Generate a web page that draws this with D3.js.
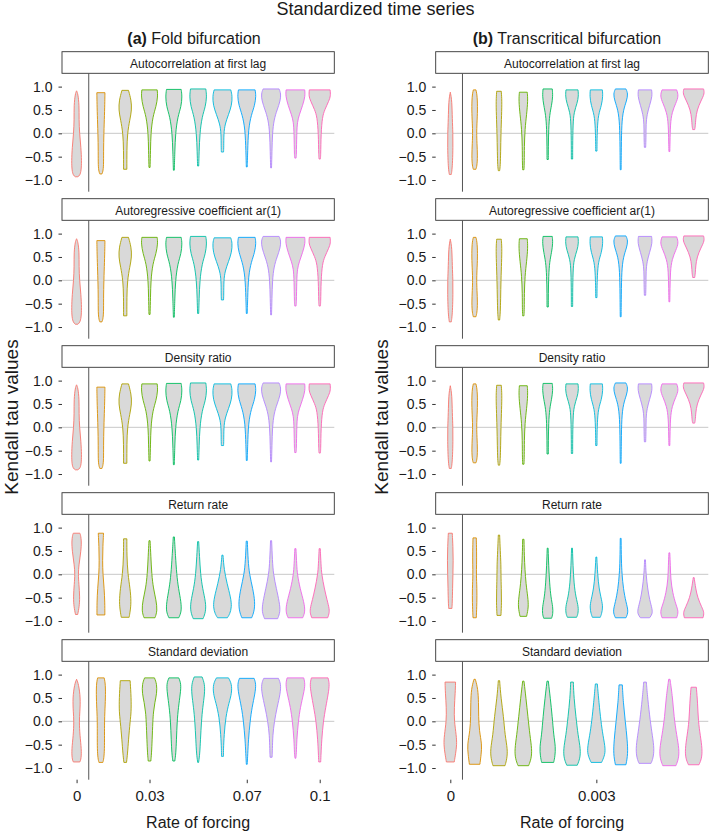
<!DOCTYPE html>
<html><head><meta charset="utf-8">
<script src="https://cdn.jsdelivr.net/npm/d3@7"></script>
<style>body{margin:0;background:#fff} text{font-family:"Liberation Sans",Arial,Helvetica,sans-serif;fill:#1a1a1a}</style>
</head><body><svg id="c" width="709" height="834"></svg>
<script>
// ---------- data ----------
const foldRates = ["0","0.01","0.02","0.03","0.04","0.05","0.06","0.07","0.08","0.09","0.1"];
const transRates = ["0","0.0005","0.001","0.0015","0.002","0.0025","0.003","0.0035","0.004","0.0045","0.005"];
const foldTickLabels = ["0","0.03","0.07","0.1"];
const transTickLabels = ["0","0.003"];
const indicators = ["Autocorrelation at first lag","Autoregressive coefficient ar(1)","Density ratio","Return rate","Standard deviation"];
const yTicks = [-1,-0.5,0,0.5,1];
const hueColors = ["#F8766D","#DB8E00","#AEA200","#64B200","#00BD5C","#00C1A7","#00BADE","#00A6FF","#B385FF","#EF67EB","#FF63B6"];

// violin profiles: [Kendall tau value, relative density width]
const foldAutocorr = [
 [[0.91,0],[0.85,0.12],[0.6,0.24],[0.3,0.22],[0,0.27],[-0.3,0.4],[-0.6,0.46],[-0.8,0.42],[-0.9,0.3],[-0.93,0.12]],
 [[0.87,0.37],[0.7,0.36],[0.4,0.33],[0,0.27],[-0.4,0.24],[-0.7,0.25],[-0.82,0.18],[-0.87,0.1]],
 [[0.92,0.3],[0.71,0.55],[0.5,0.6],[0.29,0.42],[0,0.2],[-0.36,0.15],[-0.77,0.15]],
 [[0.93,0.7],[0.79,0.76],[0.57,0.6],[0.36,0.3],[0,0.12],[-0.36,0.09],[-0.73,0.05]],
 [[0.94,0.67],[0.79,0.76],[0.57,0.67],[0.36,0.36],[0,0.15],[-0.4,0.09],[-0.79,0.04]],
 [[0.95,0.7],[0.79,0.79],[0.57,0.67],[0.36,0.36],[0,0.15],[-0.4,0.09],[-0.7,0.05]],
 [[0.93,0.76],[0.8,0.9],[0.6,0.85],[0.4,0.55],[0.2,0.24],[0,0.12],[-0.3,0.12],[-0.4,0.1]],
 [[0.93,0.76],[0.8,0.85],[0.6,0.73],[0.4,0.42],[0.1,0.15],[-0.4,0.08],[-0.72,0.04]],
 [[0.95,0.73],[0.85,0.9],[0.7,0.85],[0.5,0.55],[0.3,0.27],[0,0.12],[-0.4,0.08],[-0.74,0.04]],
 [[0.93,0.85],[0.8,0.9],[0.6,0.67],[0.4,0.36],[0.25,0.18],[0,0.12],[-0.5,0.09],[-0.53,0.06]],
 [[0.93,0.95],[0.8,1.0],[0.7,0.85],[0.5,0.45],[0.35,0.24],[0,0.12],[-0.5,0.09],[-0.55,0.06]]
];
const foldAr1 = [
 [[0.89,0],[0.83,0.12],[0.6,0.24],[0.3,0.22],[0,0.27],[-0.3,0.4],[-0.6,0.46],[-0.8,0.42],[-0.9,0.3],[-0.94,0.12]],
 [[0.85,0.37],[0.7,0.36],[0.4,0.33],[0,0.27],[-0.4,0.24],[-0.7,0.25],[-0.84,0.18],[-0.89,0.1]],
 [[0.92,0.3],[0.71,0.55],[0.5,0.6],[0.29,0.42],[0,0.2],[-0.36,0.15],[-0.76,0.15]],
 [[0.92,0.7],[0.79,0.76],[0.57,0.6],[0.36,0.3],[0,0.12],[-0.36,0.09],[-0.73,0.05]],
 [[0.92,0.67],[0.79,0.76],[0.57,0.67],[0.36,0.36],[0,0.15],[-0.4,0.09],[-0.79,0.04]],
 [[0.94,0.7],[0.79,0.79],[0.57,0.67],[0.36,0.36],[0,0.15],[-0.4,0.09],[-0.71,0.05]],
 [[0.91,0.76],[0.8,0.9],[0.6,0.85],[0.4,0.55],[0.2,0.24],[0,0.12],[-0.3,0.12],[-0.42,0.1]],
 [[0.92,0.76],[0.8,0.85],[0.6,0.73],[0.4,0.42],[0.1,0.15],[-0.4,0.08],[-0.71,0.04]],
 [[0.94,0.73],[0.85,0.9],[0.7,0.85],[0.5,0.55],[0.3,0.27],[0,0.12],[-0.4,0.08],[-0.74,0.04]],
 [[0.92,0.85],[0.8,0.9],[0.6,0.67],[0.4,0.36],[0.25,0.18],[0,0.12],[-0.5,0.09],[-0.55,0.06]],
 [[0.92,0.95],[0.8,1.0],[0.7,0.85],[0.5,0.45],[0.35,0.24],[0,0.12],[-0.5,0.09],[-0.55,0.06]]
];
const foldDensity = [
 [[0.91,0],[0.85,0.12],[0.6,0.24],[0.3,0.22],[0,0.27],[-0.3,0.4],[-0.6,0.46],[-0.8,0.42],[-0.88,0.3],[-0.91,0.12]],
 [[0.86,0.37],[0.7,0.36],[0.4,0.33],[0,0.27],[-0.4,0.24],[-0.7,0.25],[-0.83,0.18],[-0.88,0.1]],
 [[0.93,0.3],[0.71,0.55],[0.5,0.6],[0.29,0.42],[0,0.2],[-0.36,0.15],[-0.77,0.15]],
 [[0.93,0.7],[0.79,0.76],[0.57,0.6],[0.36,0.3],[0,0.12],[-0.36,0.09],[-0.72,0.05]],
 [[0.94,0.67],[0.79,0.76],[0.57,0.67],[0.36,0.36],[0,0.15],[-0.4,0.09],[-0.8,0.04]],
 [[0.95,0.7],[0.79,0.79],[0.57,0.67],[0.36,0.36],[0,0.15],[-0.4,0.09],[-0.7,0.05]],
 [[0.93,0.76],[0.8,0.9],[0.6,0.85],[0.4,0.55],[0.2,0.24],[0,0.12],[-0.3,0.12],[-0.39,0.1]],
 [[0.93,0.76],[0.8,0.85],[0.6,0.73],[0.4,0.42],[0.1,0.15],[-0.4,0.08],[-0.71,0.04]],
 [[0.95,0.73],[0.85,0.9],[0.7,0.85],[0.5,0.55],[0.3,0.27],[0,0.12],[-0.4,0.08],[-0.74,0.04]],
 [[0.93,0.85],[0.8,0.9],[0.6,0.67],[0.4,0.36],[0.25,0.18],[0,0.12],[-0.5,0.09],[-0.54,0.06]],
 [[0.93,0.95],[0.8,1.0],[0.7,0.85],[0.5,0.45],[0.35,0.24],[0,0.12],[-0.5,0.09],[-0.55,0.06]]
];
const foldReturn = [
 [[0.88,0.3],[0.85,0.36],[0.7,0.45],[0.5,0.4],[0.2,0.21],[0,0.15],[-0.2,0.21],[-0.5,0.3],[-0.7,0.24],[-0.86,0.1]],
 [[0.88,0.24],[0.6,0.18],[0.3,0.15],[0,0.18],[-0.3,0.3],[-0.6,0.36],[-0.87,0.36]],
 [[0.76,0.15],[0.4,0.15],[0,0.24],[-0.3,0.45],[-0.6,0.55],[-0.8,0.45],[-0.92,0.36]],
 [[0.72,0.05],[0.4,0.12],[0,0.2],[-0.3,0.35],[-0.55,0.6],[-0.78,0.72],[-0.93,0.5]],
 [[0.8,0.05],[0.4,0.15],[0,0.26],[-0.3,0.42],[-0.6,0.67],[-0.8,0.7],[-0.93,0.45]],
 [[0.7,0.05],[0.4,0.12],[0,0.22],[-0.3,0.4],[-0.6,0.7],[-0.8,0.7],[-0.95,0.45]],
 [[0.41,0.05],[0.1,0.15],[-0.2,0.42],[-0.5,0.76],[-0.7,0.85],[-0.85,0.67],[-0.93,0.45]],
 [[0.71,0.05],[0.3,0.12],[0,0.24],[-0.3,0.55],[-0.6,0.76],[-0.8,0.67],[-0.93,0.45]],
 [[0.72,0.05],[0.3,0.12],[0,0.21],[-0.3,0.48],[-0.6,0.76],[-0.8,0.85],[-0.95,0.6]],
 [[0.55,0.05],[0.2,0.12],[0,0.18],[-0.3,0.42],[-0.6,0.79],[-0.8,0.9],[-0.93,0.67]],
 [[0.55,0.05],[0.2,0.12],[0,0.18],[-0.3,0.42],[-0.55,0.67],[-0.75,0.9],[-0.85,0.85],[-0.93,0.73]]
];
const foldStd = [
 [[0.9,0],[0.8,0.18],[0.5,0.36],[0.2,0.3],[0,0.24],[-0.3,0.3],[-0.6,0.45],[-0.8,0.42],[-0.87,0.3]],
 [[0.93,0.3],[0.8,0.42],[0.5,0.42],[0.2,0.36],[0,0.33],[-0.3,0.33],[-0.6,0.33],[-0.8,0.27],[-0.88,0.18]],
 [[0.87,0.45],[0.5,0.55],[0.2,0.55],[0,0.45],[-0.4,0.3],[-0.7,0.21],[-0.88,0.12]],
 [[0.93,0.45],[0.8,0.67],[0.6,0.67],[0.4,0.48],[0.2,0.36],[0,0.3],[-0.4,0.24],[-0.7,0.18],[-0.85,0.12]],
 [[0.93,0.45],[0.8,0.67],[0.6,0.6],[0.3,0.42],[0,0.3],[-0.4,0.24],[-0.7,0.18],[-0.85,0.09]],
 [[0.95,0.36],[0.8,0.6],[0.6,0.6],[0.3,0.42],[0,0.3],[-0.4,0.21],[-0.7,0.15],[-0.88,0.04]],
 [[0.93,0.55],[0.8,0.85],[0.6,0.85],[0.4,0.6],[0.1,0.3],[-0.3,0.15],[-0.6,0.09],[-0.75,0.09]],
 [[0.92,0.67],[0.8,0.85],[0.6,0.76],[0.3,0.48],[0,0.3],[-0.4,0.15],[-0.7,0.09],[-0.92,0.04]],
 [[0.92,0.67],[0.8,0.9],[0.6,0.85],[0.3,0.55],[0,0.3],[-0.3,0.15],[-0.6,0.12],[-0.77,0.09]],
 [[0.93,0.76],[0.8,0.9],[0.6,0.76],[0.3,0.45],[0,0.27],[-0.4,0.12],[-0.7,0.09],[-0.79,0.04]],
 [[0.93,0.76],[0.8,0.9],[0.6,0.79],[0.3,0.55],[0,0.33],[-0.4,0.18],[-0.7,0.12],[-0.87,0.09]]
];
const transAutocorr = [
 [[0.88,0],[0.7,0.15],[0.3,0.18],[0,0.24],[-0.3,0.24],[-0.6,0.21],[-0.8,0.15],[-0.88,0.09]],
 [[0.93,0.12],[0.8,0.24],[0.5,0.27],[0.2,0.21],[0,0.18],[-0.2,0.21],[-0.5,0.27],[-0.7,0.21],[-0.77,0.12]],
 [[0.9,0.21],[0.7,0.27],[0.4,0.24],[0,0.18],[-0.4,0.15],[-0.7,0.12],[-0.8,0.06]],
 [[0.88,0.36],[0.7,0.42],[0.4,0.3],[0.1,0.15],[-0.3,0.09],[-0.6,0.09],[-0.78,0.06]],
 [[0.95,0.42],[0.8,0.48],[0.6,0.36],[0.4,0.18],[0.1,0.09],[-0.3,0.06],[-0.56,0.06]],
 [[0.93,0.55],[0.8,0.6],[0.65,0.48],[0.45,0.18],[0.2,0.09],[-0.3,0.06],[-0.55,0.06]],
 [[0.93,0.55],[0.8,0.6],[0.6,0.48],[0.4,0.18],[0.1,0.09],[-0.2,0.06],[-0.38,0.06]],
 [[0.95,0.48],[0.85,0.67],[0.7,0.55],[0.5,0.24],[0.2,0.09],[-0.3,0.06],[-0.78,0.04]],
 [[0.93,0.6],[0.8,0.67],[0.6,0.42],[0.4,0.18],[0.2,0.09],[-0.1,0.09],[-0.3,0.06]],
 [[0.93,0.67],[0.8,0.85],[0.65,0.6],[0.45,0.24],[0.2,0.09],[-0.2,0.06],[-0.39,0.04]],
 [[0.95,0.9],[0.85,1.0],[0.7,0.67],[0.5,0.3],[0.3,0.18],[0.15,0.15],[0.08,0.09]]
];
const transAr1 = [
 [[0.88,0],[0.7,0.15],[0.3,0.18],[0,0.24],[-0.3,0.24],[-0.6,0.21],[-0.8,0.15],[-0.89,0.09]],
 [[0.92,0.12],[0.8,0.24],[0.5,0.27],[0.2,0.21],[0,0.18],[-0.2,0.21],[-0.5,0.27],[-0.7,0.21],[-0.78,0.12]],
 [[0.88,0.21],[0.7,0.27],[0.4,0.24],[0,0.18],[-0.4,0.15],[-0.7,0.12],[-0.85,0.06]],
 [[0.89,0.36],[0.7,0.42],[0.4,0.3],[0.1,0.15],[-0.3,0.09],[-0.6,0.09],[-0.76,0.06]],
 [[0.94,0.42],[0.8,0.48],[0.6,0.36],[0.4,0.18],[0.1,0.09],[-0.3,0.06],[-0.57,0.06]],
 [[0.93,0.55],[0.8,0.6],[0.65,0.48],[0.45,0.18],[0.2,0.09],[-0.3,0.06],[-0.56,0.06]],
 [[0.93,0.55],[0.8,0.6],[0.6,0.48],[0.4,0.18],[0.1,0.09],[-0.2,0.06],[-0.37,0.06]],
 [[0.95,0.48],[0.85,0.67],[0.7,0.55],[0.5,0.24],[0.2,0.09],[-0.3,0.06],[-0.78,0.04]],
 [[0.94,0.6],[0.8,0.67],[0.6,0.42],[0.4,0.18],[0.2,0.09],[-0.1,0.09],[-0.32,0.06]],
 [[0.93,0.67],[0.8,0.85],[0.65,0.6],[0.45,0.24],[0.2,0.09],[-0.2,0.06],[-0.46,0.04]],
 [[0.95,0.9],[0.85,1.0],[0.7,0.67],[0.5,0.3],[0.3,0.18],[0.15,0.15],[0.06,0.09]]
];
const transDensity = [
 [[0.89,0],[0.7,0.15],[0.3,0.18],[0,0.24],[-0.3,0.24],[-0.6,0.21],[-0.8,0.15],[-0.88,0.09]],
 [[0.93,0.12],[0.8,0.24],[0.5,0.27],[0.2,0.21],[0,0.18],[-0.2,0.21],[-0.5,0.27],[-0.7,0.21],[-0.76,0.12]],
 [[0.9,0.21],[0.7,0.27],[0.4,0.24],[0,0.18],[-0.4,0.15],[-0.7,0.12],[-0.81,0.06]],
 [[0.89,0.36],[0.7,0.42],[0.4,0.3],[0.1,0.15],[-0.3,0.09],[-0.6,0.09],[-0.79,0.06]],
 [[0.94,0.42],[0.8,0.48],[0.6,0.36],[0.4,0.18],[0.1,0.09],[-0.3,0.06],[-0.57,0.06]],
 [[0.93,0.55],[0.8,0.6],[0.65,0.48],[0.45,0.18],[0.2,0.09],[-0.3,0.06],[-0.56,0.06]],
 [[0.93,0.55],[0.8,0.6],[0.6,0.48],[0.4,0.18],[0.1,0.09],[-0.2,0.06],[-0.39,0.06]],
 [[0.95,0.48],[0.85,0.67],[0.7,0.55],[0.5,0.24],[0.2,0.09],[-0.3,0.06],[-0.77,0.04]],
 [[0.93,0.6],[0.8,0.67],[0.6,0.42],[0.4,0.18],[0.2,0.09],[-0.1,0.09],[-0.31,0.06]],
 [[0.93,0.67],[0.8,0.85],[0.65,0.6],[0.45,0.24],[0.2,0.09],[-0.2,0.06],[-0.39,0.04]],
 [[0.95,0.9],[0.85,1.0],[0.7,0.67],[0.5,0.3],[0.3,0.18],[0.15,0.15],[0.09,0.09]]
];
const transReturn = [
 [[0.88,0.18],[0.6,0.24],[0.3,0.27],[0,0.24],[-0.3,0.21],[-0.6,0.18],[-0.73,0.15]],
 [[0.78,0.15],[0.5,0.18],[0.2,0.18],[0,0.15],[-0.3,0.21],[-0.6,0.21],[-0.93,0.15]],
 [[0.84,0.06],[0.5,0.12],[0.2,0.18],[0,0.18],[-0.3,0.21],[-0.6,0.24],[-0.88,0.18]],
 [[0.75,0.06],[0.4,0.09],[0.1,0.15],[-0.2,0.24],[-0.5,0.42],[-0.7,0.48],[-0.9,0.3]],
 [[0.56,0.04],[0.2,0.09],[-0.2,0.18],[-0.5,0.3],[-0.7,0.48],[-0.85,0.48],[-0.94,0.36]],
 [[0.56,0.04],[0.2,0.09],[-0.2,0.18],[-0.5,0.36],[-0.7,0.6],[-0.85,0.55],[-0.92,0.42]],
 [[0.37,0.04],[0,0.12],[-0.3,0.24],[-0.55,0.48],[-0.7,0.6],[-0.85,0.48],[-0.92,0.36]],
 [[0.77,0.04],[0.3,0.06],[0,0.12],[-0.3,0.24],[-0.6,0.48],[-0.8,0.73],[-0.93,0.48]],
 [[0.31,0.04],[0,0.09],[-0.3,0.24],[-0.55,0.42],[-0.75,0.67],[-0.85,0.67],[-0.93,0.42]],
 [[0.46,0.04],[0.2,0.09],[-0.1,0.12],[-0.4,0.3],[-0.65,0.6],[-0.8,0.85],[-0.93,0.67]],
 [[-0.07,0.04],[-0.3,0.18],[-0.5,0.36],[-0.7,0.73],[-0.82,0.97],[-0.93,0.85]]
];
const transStd = [
 [[0.84,0.48],[0.6,0.45],[0.3,0.36],[0,0.36],[-0.3,0.55],[-0.5,0.6],[-0.7,0.48],[-0.87,0.36]],
 [[0.9,0.06],[0.7,0.3],[0.4,0.36],[0.1,0.36],[-0.2,0.42],[-0.5,0.67],[-0.7,0.6],[-0.92,0.48]],
 [[0.87,0.06],[0.5,0.18],[0.1,0.42],[-0.3,0.55],[-0.6,0.79],[-0.8,0.73],[-0.95,0.55]],
 [[0.86,0.06],[0.5,0.24],[0.1,0.42],[-0.3,0.6],[-0.6,0.79],[-0.8,0.73],[-0.95,0.48]],
 [[0.86,0.06],[0.5,0.24],[0.1,0.42],[-0.3,0.55],[-0.55,0.73],[-0.75,0.67],[-0.88,0.55]],
 [[0.84,0.12],[0.5,0.18],[0.1,0.36],[-0.3,0.55],[-0.6,0.79],[-0.8,0.73],[-0.94,0.48]],
 [[0.8,0.09],[0.4,0.24],[0,0.42],[-0.3,0.6],[-0.6,0.85],[-0.75,0.73],[-0.88,0.48]],
 [[0.78,0.15],[0.4,0.24],[0,0.42],[-0.4,0.6],[-0.7,0.67],[-0.93,0.48]],
 [[0.84,0.12],[0.5,0.24],[0,0.48],[-0.3,0.67],[-0.6,0.85],[-0.8,0.73],[-0.9,0.55]],
 [[0.9,0.06],[0.5,0.3],[0.1,0.42],[-0.3,0.67],[-0.6,0.9],[-0.8,0.85],[-0.95,0.6]],
 [[0.73,0.24],[0.4,0.36],[0,0.42],[-0.3,0.6],[-0.6,0.79],[-0.8,0.73],[-0.93,0.48]]
];

const columns = [
  {label:"(a)", title:" Fold bifurcation", rates:foldRates, tickLabels:foldTickLabels,
   panels:[foldAutocorr, foldAr1, foldDensity, foldReturn, foldStd]},
  {label:"(b)", title:" Transcritical bifurcation", rates:transRates, tickLabels:transTickLabels,
   panels:[transAutocorr, transAr1, transDensity, transReturn, transStd]}
];

// ---------- layout ----------
const svg = d3.select("#c");
const colX = [[62, 334.3], [435.7, 708.3]];
const titleX = [194, 567];
const yLabX = [18, 388];
const stripTop0 = 51.7, stripH = 21.6, panelH = 118.4, rowStep = 147;

svg.append("text").attr("x", 375.5).attr("y", 15).attr("text-anchor","middle")
  .style("font-size","18px").text("Standardized time series");

columns.forEach((col, ci) => {
  const [x0, x1] = colX[ci];
  const x = d3.scalePoint().domain(col.rates).range([x0, x1]).padding(0.6);
  const step = x.step();
  const w = d3.scaleLinear().domain([0, 1]).range([0, 0.45 * step]);
  const sepX = (x(col.rates[0]) + x(col.rates[1])) / 2;

  const t = svg.append("text").attr("x", titleX[ci]).attr("y", 44).attr("text-anchor","middle").style("font-size","16px");
  t.append("tspan").style("font-weight","bold").text(col.label);
  t.append("tspan").text(col.title);

  svg.append("text").attr("transform", `translate(${yLabX[ci]},417) rotate(-90)`)
    .attr("text-anchor","middle").style("font-size","19px").text("Kendall tau values");

  col.panels.forEach((panel, ri) => {
    const sTop = stripTop0 + ri * rowStep;
    const pTop = sTop + stripH, pBot = pTop + panelH;
    const y = d3.scaleLinear().domain([-1.25, 1.285]).range([pBot, pTop]);
    const g = svg.append("g");

    g.append("rect").attr("x", x0).attr("y", sTop).attr("width", x1 - x0).attr("height", stripH)
      .attr("fill","#fff").attr("stroke","#333").attr("stroke-width",0.9);
    g.append("text").attr("x", (x0 + x1) / 2).attr("y", sTop + 16).attr("text-anchor","middle")
      .style("font-size","12px").text(indicators[ri]);

    g.append("line").attr("x1", x0).attr("x2", x1).attr("y1", y(0)).attr("y2", y(0))
      .attr("stroke","#c8c8c8").attr("stroke-width",1);
    g.append("line").attr("x1", sepX).attr("x2", sepX).attr("y1", pTop).attr("y2", pBot)
      .attr("stroke","#555").attr("stroke-width",1);

    panel.forEach((prof, vi) => {
      const cx = x(col.rates[vi]);
      const area = d3.area().curve(d3.curveBasis)
        .y(d => y(d[0])).x0(d => cx - w(d[1])).x1(d => cx + w(d[1]));
      g.append("path").attr("d", area(prof)).attr("fill","#d9d9d9")
        .attr("stroke", hueColors[vi]).attr("stroke-width",0.9).attr("stroke-linejoin","round");
    });

    const ya = g.append("g").attr("transform", `translate(${x0},0)`)
      .call(d3.axisLeft(y).tickValues(yTicks).tickSize(3.5).tickPadding(6).tickFormat(d3.format(".1f")));
    ya.select(".domain").remove();
    ya.selectAll(".tick line").attr("stroke","#333");
    ya.selectAll(".tick text").style("font-size","14px").style("font-family","'Liberation Sans',Arial,sans-serif").attr("fill","#1a1a1a");

    if (ri === col.panels.length - 1) {
      const xa = g.append("g").attr("transform", `translate(0,${pBot})`)
        .call(d3.axisBottom(x).tickValues(col.tickLabels).tickSize(3.5).tickPadding(7));
      xa.select(".domain").remove();
      xa.selectAll(".tick line").attr("stroke","#333");
      xa.selectAll(".tick text").style("font-size","15px").style("font-family","'Liberation Sans',Arial,sans-serif").attr("fill","#1a1a1a");
      g.append("text").attr("x", (x0 + x1) / 2).attr("y", 828).attr("text-anchor","middle")
        .style("font-size","16px").text("Rate of forcing");
    }
  });
});
</script></body></html>
